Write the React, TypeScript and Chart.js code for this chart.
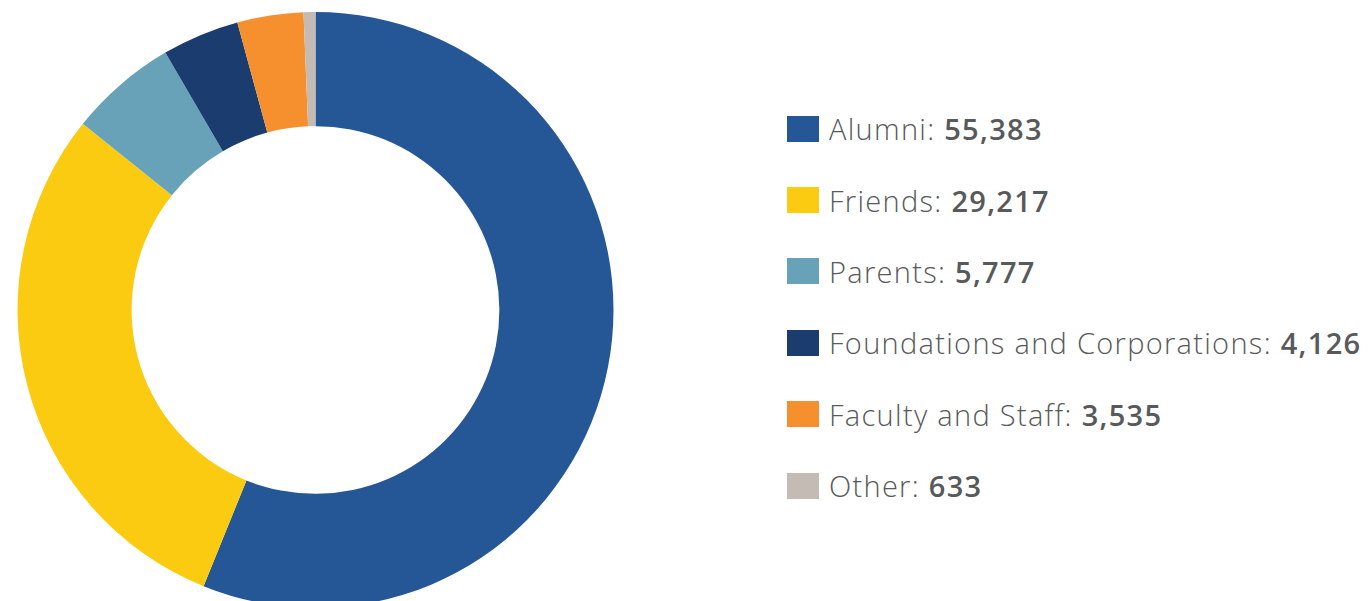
import React, { useEffect, useRef } from "react";
import { Chart, registerables } from "chart.js";

Chart.register(...registerables);

const categories: string[] = [
  "Alumni",
  "Friends",
  "Parents",
  "Foundations and Corporations",
  "Faculty and Staff",
  "Other",
];
const donors: number[] = [55383, 29217, 5777, 4126, 3535, 633];
const colors: string[] = ["#255797", "#FBCB11", "#67A2B9", "#1A3C6E", "#F68F2E", "#C4BBB5"];

const fmt = (v: number) => v.toLocaleString("en-US");

export default function App() {
  const ref = useRef<HTMLCanvasElement | null>(null);

  useEffect(() => {
    if (!ref.current) return;
    const chart = new Chart(ref.current, {
      type: "doughnut",
      data: {
        labels: categories,
        datasets: [
          {
            data: donors,
            backgroundColor: colors,
            borderWidth: 0,
          },
        ],
      },
      options: {
        responsive: false,
        animation: false,
        cutout: "61.7%",
        layout: { padding: 12 },
        plugins: {
          legend: { display: false },
          tooltip: { enabled: false },
        },
      },
    });
    return () => chart.destroy();
  }, []);

  return (
    <div
      style={{
        position: "fixed",
        left: 0,
        top: 0,
        width: 1369,
        height: 601,
        overflow: "hidden",
        background: "#ffffff",
      }}
    >
      <canvas
        ref={ref}
        width={631}
        height={620}
        style={{ position: "absolute", left: 0, top: 0, width: 631, height: 620 }}
      />
      <div style={{ position: "absolute", left: 787, top: 93 }}>
        {categories.map((c, i) => (
          <div
            key={c}
            style={{
              display: "flex",
              alignItems: "center",
              height: 71.4,
              fontFamily: "'Open Sans', sans-serif",
              fontSize: 29,
              fontWeight: 300,
              letterSpacing: "1.3px",
              color: "#58595B",
              whiteSpace: "nowrap",
            }}
          >
            <span
              style={{
                display: "inline-block",
                width: 32,
                height: 26,
                background: colors[i],
                marginRight: 10,
              }}
            />
            <span>
              {c}: <span style={{ fontWeight: 600 }}>{fmt(donors[i])}</span>
            </span>
          </div>
        ))}
      </div>
    </div>
  );
}
